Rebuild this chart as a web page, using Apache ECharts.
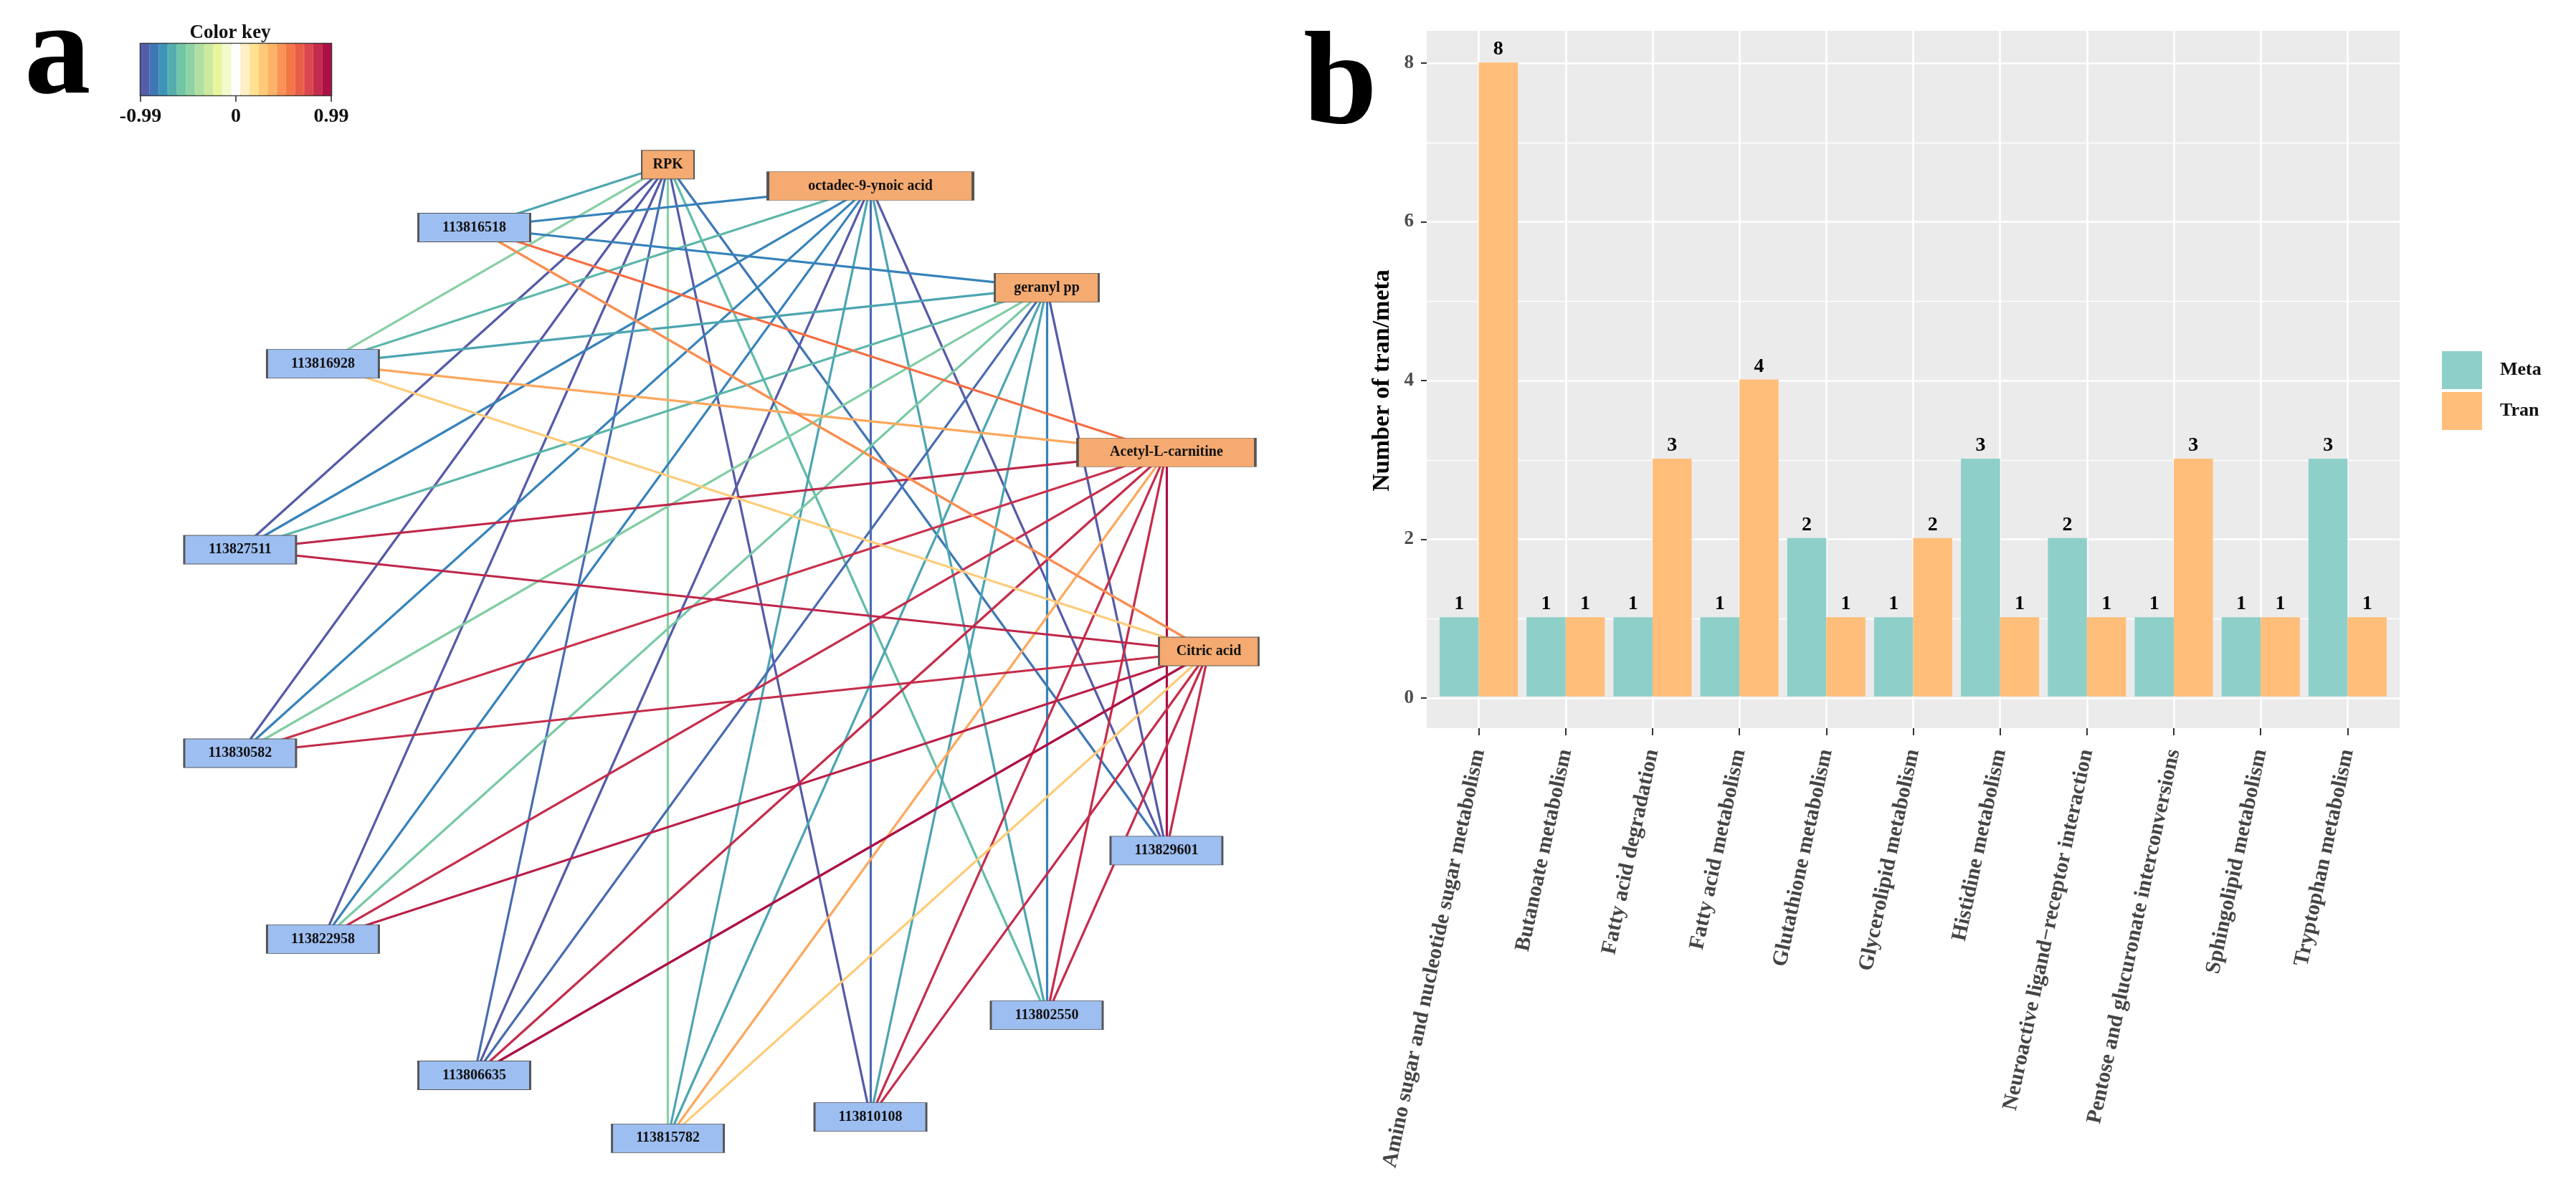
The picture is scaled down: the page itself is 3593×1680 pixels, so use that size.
<!DOCTYPE html>
<html>
<head>
<meta charset="utf-8">
<script src="https://cdn.jsdelivr.net/npm/echarts@6/dist/echarts.min.js"></script>
<style>
html,body{margin:0;padding:0;background:#ffffff;}
#chart{width:3593px;height:1680px;}
</style>
</head>
<body>
<div id="chart"></div>
<script>
// ================= Panel a : correlation network =================
const metabolites = ['RPK', 'octadec-9-ynoic acid', 'geranyl pp', 'Acetyl-L-carnitine', 'Citric acid'];
const genes = ['113829601', '113802550', '113810108', '113815782', '113806635',
               '113822958', '113830582', '113827511', '113816928', '113816518'];
// order of the nodes around the circle (clockwise, starting at the right)
const circleOrder = ['Citric acid', '113829601', '113802550', '113810108', '113815782', '113806635',
                     '113822958', '113830582', '113827511', '113816928', '113816518',
                     'RPK', 'octadec-9-ynoic acid', 'geranyl pp', 'Acetyl-L-carnitine'];

// correlation of each metabolite with the genes (same order as `genes`)
const rRPK      = [-0.86, -0.62, -0.96, -0.50, -0.90, -0.96, -0.96, -0.96, -0.50, -0.70];
const rOctadec  = [-0.96, -0.70, -0.90, -0.70, -0.96, -0.82, -0.82, -0.82, -0.64, -0.82];
const rGeranyl  = [-0.96, -0.82, -0.70, -0.70, -0.90, -0.55, -0.52, -0.64, -0.70, -0.82];
const rAcetyl   = [ 0.96,  0.86,  0.86,  0.42,  0.86,  0.86,  0.84,  0.88,  0.42,  0.60];
const rCitric   = [ 0.86,  0.86,  0.86,  0.28,  0.95,  0.90,  0.86,  0.88,  0.28,  0.50];

// color key
const colorKeyBins = [-0.95, -0.86, -0.76, -0.67, -0.57, -0.48, -0.38, -0.29, -0.19, -0.10, 0,
                       0.10, 0.19, 0.29, 0.38, 0.48, 0.57, 0.67, 0.76, 0.86, 0.95];
const colorKeyTicks = [-0.99, 0, 0.99];

// ================= Panel b : bar chart =================
const pathways = ['Amino sugar and nucleotide sugar metabolism', 'Butanoate metabolism',
  'Fatty acid degradation', 'Fatty acid metabolism', 'Glutathione metabolism',
  'Glycerolipid metabolism', 'Histidine metabolism', 'Neuroactive ligand\u2212receptor interaction',
  'Pentose and glucuronate interconversions', 'Sphingolipid metabolism', 'Tryptophan metabolism'];
const metaCounts = [1, 1, 1, 1, 2, 1, 3, 2, 1, 1, 3];
const tranCounts = [8, 1, 3, 4, 1, 2, 1, 1, 3, 1, 1];
const yTicks = [0, 2, 4, 6, 8];

// ---------- styling helpers ----------
const SERIF = '"Liberation Serif", "Times New Roman", serif';
const spectral = ['#5E4FA2', '#3288BD', '#66C2A5', '#ABDDA4', '#E6F598', '#FFFFFF',
                  '#FEE08B', '#FDAE61', '#F46D43', '#D53E4F', '#9E0142'];
function hexToRgb(h) { return [1, 3, 5].map(i => parseInt(h.substr(i, 2), 16)); }
function corrColor(v) {
  let t = (v + 1) / 2 * 10;
  t = Math.max(0, Math.min(10, t));
  const i = Math.min(9, Math.floor(t));
  const f = t - i;
  const a = hexToRgb(spectral[i]), b = hexToRgb(spectral[i + 1]);
  const c = a.map((x, k) => Math.round(x + (b[k] - x) * f));
  return 'rgb(' + c.join(',') + ')';
}
const nodeWidth = { 'RPK': 73, 'octadec-9-ynoic acid': 286, 'geranyl pp': 145,
                    'Acetyl-L-carnitine': 248, 'Citric acid': 139 };

const corrRows = [rRPK, rOctadec, rGeranyl, rAcetyl, rCitric];
const links = [];
metabolites.forEach((m, mi) => {
  genes.forEach((g, gi) => {
    const v = corrRows[mi][gi];
    links.push({ source: m, target: g, value: v, lineStyle: { color: corrColor(v) } });
  });
});
const nodes = circleOrder.map((name, i) => {
  const isMet = metabolites.indexOf(name) >= 0;
  return {
    name: name,
    value: [1, i],
    symbolSize: [nodeWidth[name] || 156, 40],
    itemStyle: { color: isMet ? '#F4AA70' : '#9DBEF1', borderColor: '#555555', borderWidth: 1.5 }
  };
});

const chart = echarts.init(document.getElementById('chart'));
const option = {
  backgroundColor: '#ffffff',
  animation: false,
  polar: { center: [1003, 909], radius: 683 },
  angleAxis: { type: 'category', data: circleOrder, boundaryGap: false, startAngle: 0, clockwise: true, show: false },
  radiusAxis: { type: 'value', min: 0, max: 1, show: false },
  grid: [
    { left: 196, top: 61, width: 266, height: 72, show: true, borderColor: '#333333', borderWidth: 2.5,
      backgroundColor: 'transparent', outerBoundsMode: 'none' },
    { left: 1990, top: 43, width: 1357, height: 973, show: true, backgroundColor: '#EBEBEB',
      borderWidth: 0, outerBoundsMode: 'none' },
    { left: 1990, top: 88, width: 1357, height: 886, outerBoundsMode: 'none' },
    { left: 2002, top: 43, width: 1333, height: 973, outerBoundsMode: 'none' }
  ],
  xAxis: [
    { gridIndex: 0, type: 'category', position: 'top', data: colorKeyBins.map(String), show: false },
    { gridIndex: 0, type: 'value', position: 'bottom', min: colorKeyTicks[0], max: colorKeyTicks[2],
      interval: colorKeyTicks[2],
      axisLine: { show: false },
      axisTick: { show: true, length: 9, lineStyle: { color: '#222', width: 1.5 } },
      axisLabel: { show: true, margin: 16, fontFamily: SERIF, fontWeight: 'bold', fontSize: 28, color: '#111',
        formatter: v => (Math.abs(v) < 1e-9 ? '0' : String(+v.toFixed(2))) },
      splitLine: { show: false } },
    { gridIndex: 1, type: 'value', min: 0, max: 1, show: false },
    { gridIndex: 2, type: 'value', min: 0, max: 1, show: false },
    { gridIndex: 3, type: 'category', data: pathways, position: 'bottom',
      axisLine: { show: false, onZero: false },
      axisTick: { show: true, alignWithLabel: true, interval: 0, length: 10, lineStyle: { color: '#333', width: 2 } },
      axisLabel: { show: true, interval: 0, rotate: 78, margin: 30, fontFamily: SERIF, fontWeight: 'bold',
        fontSize: 30, color: '#444444' },
      splitLine: { show: true, alignWithLabel: true, interval: 0, lineStyle: { color: '#FFFFFF', width: 2.7 } } }
  ],
  yAxis: [
    { gridIndex: 0, type: 'value', min: 0, max: 1, show: false },
    { gridIndex: 1, type: 'value', min: 0, max: 1, show: false },
    { gridIndex: 2, type: 'value', min: yTicks[0], max: yTicks[yTicks.length - 1], interval: yTicks[1] - yTicks[0],
      axisLine: { show: false },
      axisTick: { show: true, length: 8, lineStyle: { color: '#333', width: 2 } },
      axisLabel: { show: true, margin: 18, fontFamily: SERIF, fontWeight: 'bold', fontSize: 27, color: '#4D4D4D' },
      splitLine: { show: true, lineStyle: { color: '#FFFFFF', width: 2.7 } },
      minorTick: { show: false, splitNumber: 2 },
      minorSplitLine: { show: true, lineStyle: { color: '#FFFFFF', width: 1.4 } },
      name: 'Number of tran/meta', nameLocation: 'middle', nameGap: 45,
      nameTextStyle: { fontFamily: SERIF, fontWeight: 'bold', fontSize: 34, color: '#000' } },
    { gridIndex: 3, type: 'value', min: -0.4, max: 8.4, show: false }
  ],
  legend: {
    data: ['Meta', 'Tran'], orient: 'vertical', left: 3401, top: 485,
    itemWidth: 56, itemHeight: 53, itemGap: 4, icon: 'rect', selectedMode: false,
    textStyle: { fontFamily: SERIF, fontWeight: 'bold', fontSize: 26, color: '#111', padding: [0, 0, 0, 20] }
  },
  graphic: [
    { type: 'text', x: 34, y: 81, style: { text: 'a', font: 'bold 185px ' + SERIF, fill: '#000', align: 'left', verticalAlign: 'middle' } },
    { type: 'text', x: 1818, y: 123, style: { text: 'b', font: 'bold 185px ' + SERIF, fill: '#000', align: 'left', verticalAlign: 'middle' } },
    { type: 'text', x: 321, y: 46, style: { text: 'Color key', font: 'bold 27px ' + SERIF, fill: '#111', align: 'center', verticalAlign: 'middle' } }
  ],
  series: [
    { type: 'graph', coordinateSystem: 'polar', polarIndex: 0, layout: 'none', symbol: 'rect',
      data: nodes, links: links, roam: false, silent: true,
      label: { show: true, position: 'inside', fontFamily: SERIF, fontWeight: 'bold', fontSize: 20, color: '#111' },
      lineStyle: { width: 3.2, opacity: 1, curveness: 0 },
      emphasis: { disabled: true }, z: 3 },
    { type: 'bar', xAxisIndex: 0, yAxisIndex: 0, silent: true, barWidth: '100%', barGap: '0%',
      data: colorKeyBins.map(v => ({ value: 1, itemStyle: { color: corrColor(v), borderColor: corrColor(v), borderWidth: 0.6 } })) },
    { type: 'bar', name: 'Meta', xAxisIndex: 4, yAxisIndex: 3, data: metaCounts, barWidth: '45%', barGap: '0%',
      itemStyle: { color: '#8ECFC9' },
      label: { show: true, position: 'top', distance: 4, fontFamily: SERIF, fontWeight: 'bold', fontSize: 28, color: '#000' } },
    { type: 'bar', name: 'Tran', xAxisIndex: 4, yAxisIndex: 3, data: tranCounts, barWidth: '45%', barGap: '0%',
      itemStyle: { color: '#FFBE7A' },
      label: { show: true, position: 'top', distance: 4, fontFamily: SERIF, fontWeight: 'bold', fontSize: 28, color: '#000' } }
  ]
};
chart.setOption(option);
</script>
</body>
</html>
